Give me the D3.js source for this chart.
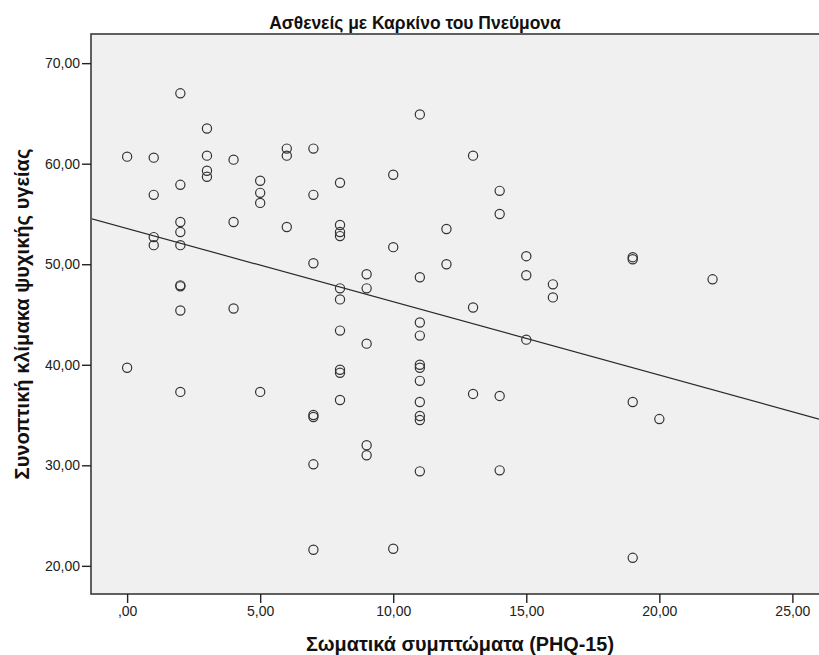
<!DOCTYPE html>
<html>
<head>
<meta charset="utf-8">
<script src="https://cdn.jsdelivr.net/npm/d3@7"></script>
<style>
  html, body { margin: 0; padding: 0; background: #fff; }
  svg { display: block; }
  .tick text { font-family: "Liberation Sans", Arial, sans-serif; font-size: 14px; fill: #222; }
</style>
</head>
<body>
<svg id="chart" width="819" height="655"></svg>
<script>
// ---- data ----
const chartTitle = "Ασθενείς με Καρκίνο του Πνεύμονα";
const xAxisTitle = "Σωματικά συμπτώματα (PHQ-15)";
const yAxisTitle = "Συνοπτική κλίμακα ψυχικής υγείας";

const xTicks = [0, 5, 10, 15, 20, 25];
const yTicks = [20, 30, 40, 50, 60, 70];

const xValues = [
  0, 0,
  1, 1, 1, 1,
  2, 2, 2, 2, 2, 2, 2, 2, 2,
  3, 3, 3, 3,
  4, 4, 4,
  5, 5, 5, 5,
  6, 6, 6,
  7, 7, 7, 7, 7, 7, 7,
  8, 8, 8, 8, 8, 8, 8, 8, 8, 8,
  9, 9, 9, 9, 9,
  10, 10, 10,
  11, 11, 11, 11, 11, 11, 11, 11, 11, 11, 11,
  12, 12,
  13, 13, 13,
  14, 14, 14, 14,
  15, 15, 15,
  16, 16,
  19, 19, 19, 19,
  20,
  22
];
const yValues = [
  60.7, 39.7,
  60.6, 56.9, 52.7, 51.9,
  67.0, 57.9, 54.2, 53.2, 51.9, 47.9, 47.8, 45.4, 37.3,
  63.5, 60.8, 59.3, 58.7,
  60.4, 54.2, 45.6,
  58.3, 57.1, 56.1, 37.3,
  61.5, 60.8, 53.7,
  61.5, 56.9, 50.1, 35.0, 34.8, 30.1, 21.6,
  58.1, 53.9, 53.2, 52.8, 47.6, 46.5, 43.4, 39.5, 39.2, 36.5,
  49.0, 47.6, 42.1, 32.0, 31.0,
  58.9, 51.7, 21.7,
  64.9, 48.7, 44.2, 42.9, 40.0, 39.7, 38.4, 36.3, 34.9, 34.5, 29.4,
  53.5, 50.0,
  60.8, 45.7, 37.1,
  57.3, 55.0, 36.9, 29.5,
  50.8, 48.9, 42.5,
  48.0, 46.7,
  50.7, 50.5, 36.3, 20.8,
  34.6,
  48.5
];

// linear fit line
const fitIntercept = 53.55;
const fitSlope = -0.729;

// ---- layout ----
const W = 819, H = 655;
const plot = { left: 91, top: 34, right: 819, bottom: 594 };

const svg = d3.select("#chart");

const x = d3.scaleLinear().domain([-1.32, 26.0]).range([92, 819]);
const y = d3.scaleLinear().domain([17.2, 72.8]).range([594, 35]);

const fmt = v => {
  const s = d3.format(".2f")(v).replace(".", ",");
  return s.startsWith("0,") ? s.slice(1) : s;
};

function fitText(sel, targetWidth) {
  sel.attr("font-size", 10);
  const len = sel.node().getComputedTextLength();
  sel.attr("font-size", (10 * targetWidth / len).toFixed(2));
}

svg.append("rect")
  .attr("x", plot.left).attr("y", plot.top)
  .attr("width", plot.right - plot.left + 5)
  .attr("height", plot.bottom - plot.top)
  .attr("fill", "#f0f0f0")
  .attr("stroke", "#3a3a3a")
  .attr("stroke-width", 1.6);

svg.append("clipPath").attr("id", "clip")
  .append("rect")
  .attr("x", plot.left + 1).attr("y", plot.top + 1)
  .attr("width", plot.right - plot.left)
  .attr("height", plot.bottom - plot.top - 2);

const xAxis = d3.axisBottom(x).tickValues(xTicks).tickFormat(fmt).tickSize(9).tickPadding(3).tickSizeOuter(0);
const gx = svg.append("g").attr("transform", `translate(0,${plot.bottom})`).call(xAxis);
gx.select(".domain").remove();
gx.selectAll(".tick line").attr("stroke", "#222").attr("stroke-width", 1.4);

const yAxis = d3.axisLeft(y).tickValues(yTicks).tickFormat(fmt).tickSize(9).tickPadding(2).tickSizeOuter(0);
const gy = svg.append("g").attr("transform", `translate(${plot.left},0)`).call(yAxis);
gy.select(".domain").remove();
gy.selectAll(".tick line").attr("stroke", "#222").attr("stroke-width", 1.4);

const xd = x.domain();
svg.append("line")
  .attr("clip-path", "url(#clip)")
  .attr("x1", x(xd[0]) - 2).attr("y1", y(fitIntercept + fitSlope * x.invert(x(xd[0]) - 2)))
  .attr("x2", x(xd[1])).attr("y2", y(fitIntercept + fitSlope * xd[1]))
  .attr("stroke", "#2a2a2a").attr("stroke-width", 1.2);

const pts = xValues.map((v, i) => ({ x: v, y: yValues[i] }));
svg.append("g").attr("clip-path", "url(#clip)")
  .selectAll("circle").data(pts).enter().append("circle")
  .attr("cx", d => x(d.x)).attr("cy", d => y(d.y))
  .attr("r", 4.6)
  .attr("fill", "none")
  .attr("stroke", "#333")
  .attr("stroke-width", 1.2);

const tTitle = svg.append("text")
  .attr("x", 415).attr("y", 29)
  .attr("text-anchor", "middle")
  .attr("font-family", "'Liberation Sans', Arial, sans-serif")
  .attr("font-weight", "bold")
  .attr("fill", "#111")
  .text(chartTitle);
fitText(tTitle, 292);

const tx = svg.append("text")
  .attr("x", 460).attr("y", 651)
  .attr("text-anchor", "middle")
  .attr("font-family", "'Liberation Sans', Arial, sans-serif")
  .attr("font-weight", "bold")
  .attr("fill", "#111")
  .text(xAxisTitle);
fitText(tx, 308);

const ty = svg.append("text")
  .attr("transform", `translate(29,${(plot.top + plot.bottom) / 2}) rotate(-90)`)
  .attr("text-anchor", "middle")
  .attr("font-family", "'Liberation Sans', Arial, sans-serif")
  .attr("font-weight", "bold")
  .attr("fill", "#111")
  .text(yAxisTitle);
fitText(ty, 331);
</script>
</body>
</html>
